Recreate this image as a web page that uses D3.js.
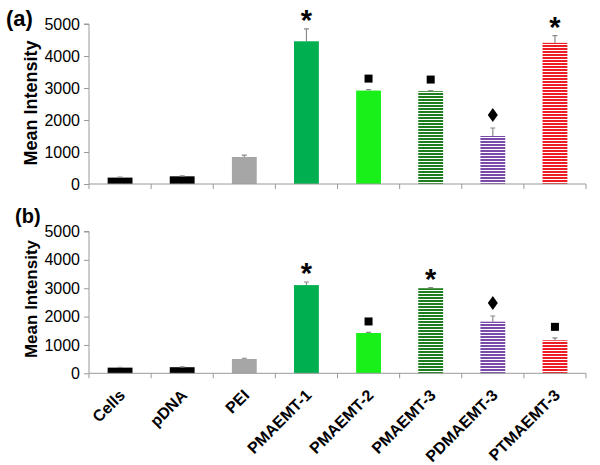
<!DOCTYPE html>
<html><head><meta charset="utf-8">
<script src="https://cdn.jsdelivr.net/npm/d3@7"></script>
<style>body{margin:0;background:#fff}svg{display:block}</style>
</head><body>
<svg id="c" width="600" height="465"></svg>
<script>
const categories = ["Cells","pDNA","PEI","PMAEMT-1","PMAEMT-2","PMAEMT-3","PDMAEMT-3","PTMAEMT-3"];
const valuesA = [200, 240, 845, 4460, 2920, 2900, 1500, 4410];
const errorsA = [15, 15, 60, 385, 30, 20, 250, 225];
const marksA  = ["", "", "", "*", "square", "square", "diamond", "*"];
const valuesB = [200, 215, 505, 3110, 1420, 3000, 1820, 1165];
const errorsB = [10, 10, 25, 110, 20, 20, 200, 85];
const marksB  = ["", "", "", "*", "square", "*", "diamond", "square"];
const yTicks = [0, 1000, 2000, 3000, 4000, 5000];
const colors = ["#000000","#000000","#a6a6a6","#00b050","#19f019","#1e7d1e","#7a4aa8","#ee1c24"];
const striped = [false,false,false,false,false,true,true,true];

const svg = d3.select("#c");
const defs = svg.append("defs");
colors.forEach((c,i)=>{
  if(!striped[i]) return;
  const p = defs.append("pattern").attr("id","pat"+i).attr("patternUnits","userSpaceOnUse")
    .attr("width",8).attr("height",3);
  p.append("rect").attr("width",8).attr("height",3).attr("fill","#fff");
  p.append("rect").attr("width",8).attr("height",2).attr("fill",c);
});
const fillFor = i => striped[i] ? `url(#pat${i})` : colors[i];

const x = d3.scaleBand().domain(categories).range([89,586]).paddingInner(0.6).paddingOuter(0.3);
const axisColor = "#9a9a9a";
const FONT = "Liberation Sans, Arial, sans-serif";

function panel(values, errors, marks, y0, y1, label, lblX, lblY, lblSize, ylabY, ylabSize){
  const y = d3.scaleLinear().domain([0,5000]).range([y0,y1]);
  const g = svg.append("g");
  const ya = g.append("g").attr("transform","translate(89,0)")
    .call(d3.axisLeft(y).tickValues(yTicks).tickSize(5).tickPadding(4).tickFormat(d3.format("d")));
  ya.select(".domain").attr("stroke",axisColor).attr("d",`M-5,${y(5000)}H0V${y(0)}`);
  ya.selectAll(".tick line").attr("stroke",axisColor);
  ya.selectAll(".tick text").attr("font-family",FONT).attr("font-size",16).attr("fill","#000");
  g.selectAll("rect.bar").data(categories).join("rect")
    .attr("x",d=>x(d)).attr("width",x.bandwidth())
    .attr("y",(d,i)=>y(values[i])).attr("height",(d,i)=>y(0)-y(values[i]))
    .attr("fill",(d,i)=>fillFor(i));
  const cx = d => x(d)+x.bandwidth()/2;
  g.selectAll("path.err").data(categories).join("path")
    .attr("d",(d,i)=>`M${cx(d)},${y(values[i])}V${y(values[i]+errors[i])}M${cx(d)-2.5},${y(values[i]+errors[i])}H${cx(d)+2.5}`)
    .attr("stroke","#8a8a8a").attr("stroke-width",1.2).attr("fill","none");
  const step = x.step(), gap = (step - x.bandwidth())/2;
  g.append("line").attr("x1",89).attr("x2",586).attr("y1",y(0)).attr("y2",y(0)).attr("stroke",axisColor);
  const bounds = categories.map(d=>x(d)-gap).concat([x(categories[categories.length-1])+x.bandwidth()+gap]);
  g.selectAll("line.xt").data(bounds).join("line")
    .attr("x1",d=>d).attr("x2",d=>d).attr("y1",y(0)).attr("y2",y(0)+5).attr("stroke",axisColor);
  categories.forEach((d,i)=>{
    const m = marks[i]; if(!m) return;
    const top = y(values[i]+errors[i]);
    const c = cx(d);
    if(m==="*"){
      g.append("text").attr("x",c).attr("y",top+1).attr("text-anchor","middle")
        .attr("font-family",FONT).attr("font-weight","bold").attr("font-size",29).text("*");
    } else if(m==="square"){
      g.append("rect").attr("x",c-4).attr("y",top-11-4).attr("width",8).attr("height",8).attr("fill","#000");
    } else if(m==="diamond"){
      g.append("path").attr("d",`M${c},${top-20}L${c+5},${top-13}L${c},${top-6}L${c-5},${top-13}Z`).attr("fill","#000");
    }
  });
  g.append("text").attr("transform",`translate(37,${ylabY}) rotate(-90)`).attr("text-anchor","middle")
    .attr("font-family",FONT).attr("font-weight","bold").attr("font-size",ylabSize).text("Mean Intensity");
  g.append("text").attr("x",lblX).attr("y",lblY)
    .attr("font-family",FONT).attr("font-weight","bold").attr("font-size",lblSize).text(label);
  return y;
}

panel(valuesA, errorsA, marksA, 184, 24, "(a)", 6, 26, 22, 103, 18);
const yb = panel(valuesB, errorsB, marksB, 373.3, 231.5, "(b)", 15, 223, 20, 299, 17);

svg.append("g").selectAll("text").data(categories).join("text")
  .attr("transform",d=>`translate(${x(d)+x.bandwidth()/2+6},${yb(0)+23}) rotate(-45)`)
  .attr("text-anchor","end")
  .attr("font-family",FONT).attr("font-weight","bold").attr("font-size",16)
  .text(d=>d);
</script>
</body></html>
